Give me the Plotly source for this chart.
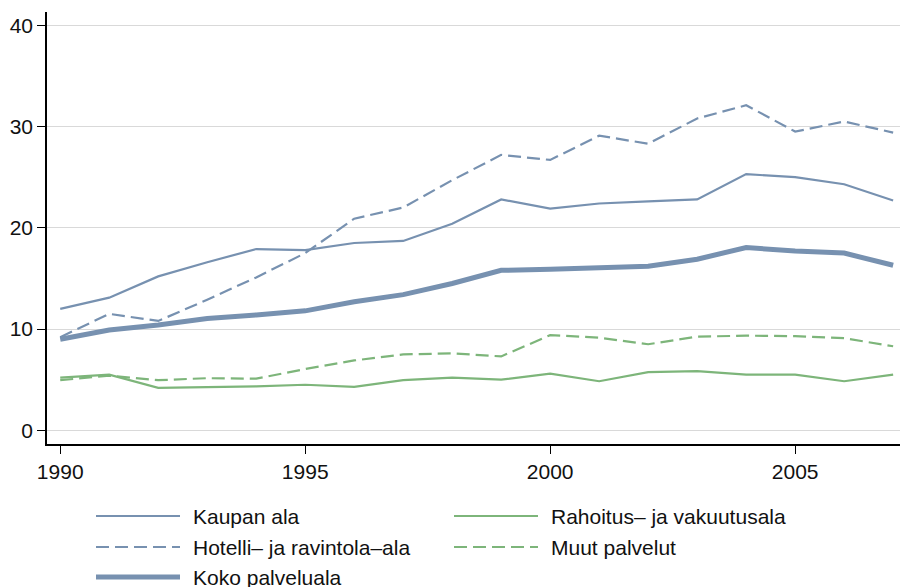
import plotly.graph_objects as go

years = list(range(1990, 2008))

kaupan_ala = [12.0, 13.1, 15.2, 16.6, 17.9, 17.8, 18.5, 18.7, 20.4, 22.8,
              21.9, 22.4, 22.6, 22.8, 25.3, 25.0, 24.3, 22.7]
hotelli_ravintola = [9.2, 11.5, 10.8, 12.9, 15.1, 17.5, 20.9, 22.0, 24.7, 27.2,
                     26.7, 29.1, 28.3, 30.8, 32.1, 29.5, 30.5, 29.4]
koko_palveluala = [9.0, 9.9, 10.4, 11.05, 11.4, 11.8, 12.7, 13.4, 14.5, 15.8,
                   15.9, 16.1, 16.2, 16.9, 18.05, 17.7, 17.5, 16.3]
rahoitus_vakuutus = [5.2, 5.5, 4.2, 4.25, 4.35, 4.5, 4.3, 4.95, 5.2, 5.0,
                     5.6, 4.85, 5.75, 5.85, 5.5, 5.5, 4.85, 5.5]
muut_palvelut = [4.95, 5.4, 4.95, 5.15, 5.1, 6.05, 6.9, 7.5, 7.6, 7.3,
                 9.4, 9.15, 8.5, 9.25, 9.35, 9.3, 9.1, 8.3]

y_ticks = [0, 10, 20, 30, 40]
x_ticks = [1990, 1995, 2000, 2005]

BLUE = "#7791b0"
GREEN = "#7db57a"
DASH = "13px,6px"

series = [
    ("Kaupan ala", kaupan_ala, BLUE, 2.2, "solid"),
    ("Hotelli– ja ravintola–ala", hotelli_ravintola, BLUE, 2.2, DASH),
    ("Koko palveluala", koko_palveluala, BLUE, 5, "solid"),
    ("Rahoitus– ja vakuutusala", rahoitus_vakuutus, GREEN, 2.2, "solid"),
    ("Muut palvelut", muut_palvelut, GREEN, 2.2, DASH),
]

fig = go.Figure()
for name, vals, col, w, dash in series:
    fig.add_trace(go.Scatter(x=years, y=vals, mode="lines", name=name,
                             line=dict(color=col, width=w, dash=dash),
                             showlegend=False))

W, H = 900, 587
ML, MR, MT, MB = 47, 0, 12, 143
PW, PH = W - ML - MR, H - MT - MB

def px(xp):
    return (xp - ML) / PW

def py(yp):
    return (H - MB - yp) / PH

# manual legend (two columns)
legend_items = [
    ("Kaupan ala", BLUE, 2.2, "solid", 96, 516),
    ("Hotelli– ja ravintola–ala", BLUE, 2.2, DASH, 96, 547),
    ("Koko palveluala", BLUE, 5, "solid", 96, 577),
    ("Rahoitus– ja vakuutusala", GREEN, 2.2, "solid", 454, 516),
    ("Muut palvelut", GREEN, 2.2, DASH, 454, 547),
]
shapes = []
annotations = []
for name, col, w, dash, x0, yy in legend_items:
    shapes.append(dict(type="line", xref="paper", yref="paper",
                       x0=px(x0), x1=px(x0 + 84), y0=py(yy), y1=py(yy),
                       line=dict(color=col, width=w, dash=dash)))
    annotations.append(dict(xref="paper", yref="paper", x=px(x0 + 95), y=py(yy),
                            text=name, showarrow=False, xanchor="left",
                            yanchor="middle",
                            font=dict(size=21, color="#111111",
                                      family="Liberation Sans, Arial")))

fig.update_layout(
    width=W, height=H,
    margin=dict(l=ML, r=MR, t=MT, b=MB, pad=0),
    paper_bgcolor="white", plot_bgcolor="white",
    font=dict(family="Liberation Sans, Arial", size=21, color="#111111"),
    shapes=shapes, annotations=annotations,
    xaxis=dict(range=[1989.73, 2007.14], tickvals=x_ticks,
               ticktext=[str(t) for t in x_ticks],
               showgrid=False, zeroline=False,
               showline=True, linecolor="#000000", linewidth=2,
               ticks="outside", ticklen=8, tickcolor="#000000", tickwidth=1.3,
               tickfont=dict(size=21)),
    yaxis=dict(range=[-1.35, 41.31], tickvals=y_ticks,
               showgrid=True, gridcolor="#d9d9d9", gridwidth=1.3,
               zeroline=False,
               showline=True, linecolor="#000000", linewidth=1.5,
               ticks="outside", ticklen=8, tickcolor="#000000", tickwidth=1.3,
               tickfont=dict(size=21)),
)

fig.write_html("out.html",
               config={"displayModeBar": False},
               post_script="document.body.style.margin='0';document.body.style.padding='0';")
